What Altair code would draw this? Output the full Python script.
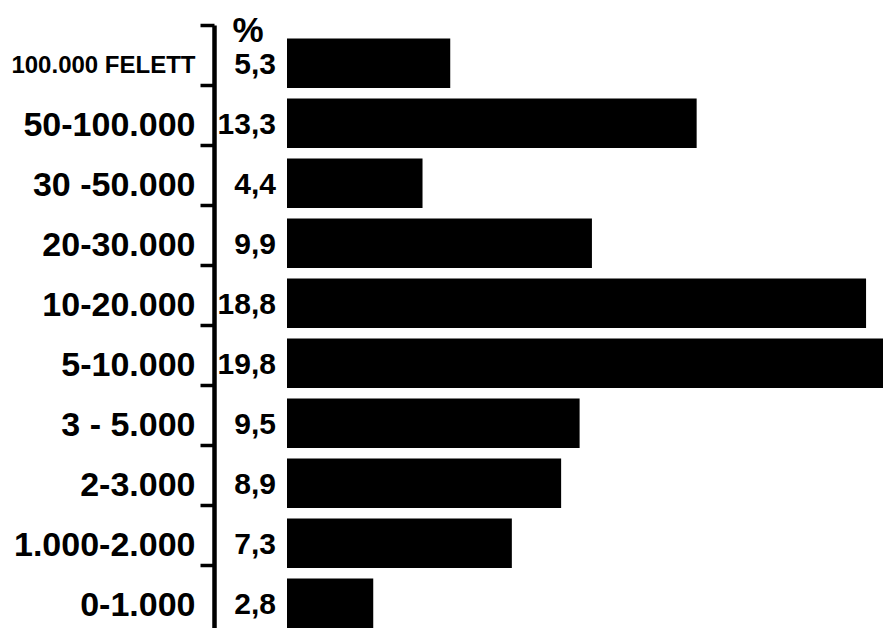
import altair as alt
import pandas as pd

categories = ["100.000 FELETT", "50-100.000", "30 -50.000", "20-30.000", "10-20.000",
              "5-10.000", "3 - 5.000", "2-3.000", "1.000-2.000", "0-1.000"]
values = [5.3, 13.3, 4.4, 9.9, 18.8, 19.8, 9.5, 8.9, 7.3, 2.8]
value_labels = ["5,3", "13,3", "4,4", "9,9", "18,8", "19,8", "9,5", "8,9", "7,3", "2,8"]
header = "%"

df = pd.DataFrame({"cat": categories, "v": values, "lbl": value_labels})
hdr = pd.DataFrame({"cat": [categories[0]], "t": [header]})

FONT = "Liberation Sans, Arial, sans-serif"

yscale = alt.Scale(domain=categories, paddingInner=0.173, paddingOuter=0.112, align=1)
xscale = alt.Scale(domain=[0, 19.35], nice=False, zero=True)

y_axis = alt.Axis(
    title=None, orient="left", offset=73,
    domain=True, domainColor="black", domainWidth=4.5,
    ticks=True, tickColor="black", tickWidth=3.5, tickSize=14,
    bandPosition=0, tickOffset=-13.4, labelOffset=15.5, labelPadding=5,
    labelFont=FONT,
    labelFontSize={"condition": {"test": "datum.value == '100.000 FELETT'", "value": 24}, "value": 34},
    labelFontWeight="bold", labelColor="black", labelAlign="right", labelBaseline="middle",
    grid=False, labelLimit=0,
)

bars = alt.Chart(df).mark_bar(color="black", clip=True).encode(
    y=alt.Y("cat:N", scale=yscale, axis=y_axis, sort=categories),
    x=alt.X("v:Q", scale=xscale, axis=None),
)

pct = alt.Chart(df).mark_text(
    align="right", baseline="middle", dx=-11, dy=2,
    font=FONT, fontSize=30, fontWeight="bold", color="black",
).encode(
    y=alt.Y("cat:N", sort=categories),
    x=alt.datum(0),
    text="lbl:N",
)

head = alt.Chart(hdr).mark_text(
    align="center", baseline="middle", dx=-39, dy=-32,
    font=FONT, fontSize=35, fontWeight="bold", color="black",
).encode(
    y=alt.Y("cat:N", sort=categories),
    x=alt.datum(0),
    text="t:N",
)

chart = alt.layer(bars, pct, head).properties(
    width=596, height=603,
    autosize=alt.AutoSizeParams(type="none"),
    padding={"left": 279, "top": 17, "right": 0, "bottom": 0},
).configure_view(stroke=None)

chart.save("out.html", embed_options={"renderer": "svg", "actions": False})
